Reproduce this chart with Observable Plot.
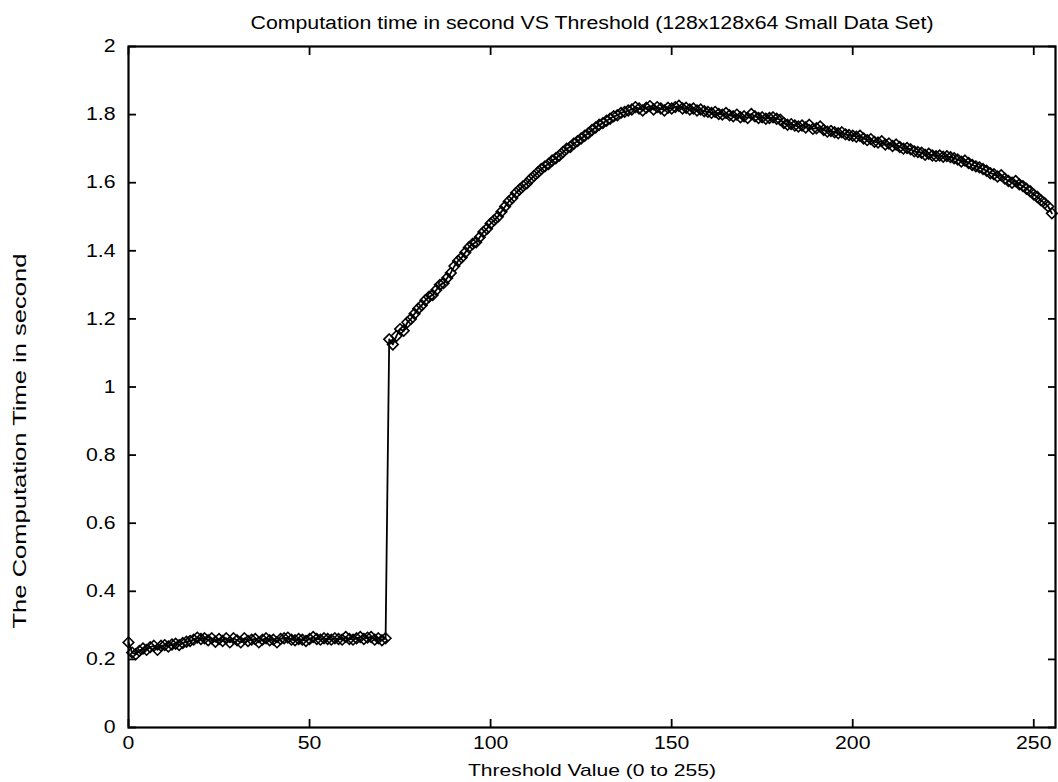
<!DOCTYPE html>
<html><head><meta charset="utf-8">
<script src="https://cdn.jsdelivr.net/npm/d3@7"></script>
<script src="https://cdn.jsdelivr.net/npm/@observablehq/plot@0.6"></script>
<style>
body{margin:0;background:#fff}
svg{font-family:"Liberation Sans",Arial,Helvetica,sans-serif}
</style>
</head><body><div id="chart"></div>
<script>
const titleText = "Computation time in second VS Threshold (128x128x64 Small Data Set)";
const xLabelText = "Threshold Value (0 to 255)";
const yLabelText = "The Computation Time in second";
const xTicks = [0, 50, 100, 150, 200, 250];
const yTicks = [0, 0.2, 0.4, 0.6, 0.8, 1, 1.2, 1.4, 1.6, 1.8, 2];

// Computation time (s) for threshold values 0..255
const times = [
  0.250,0.220,0.215,0.225,0.232,0.228,0.236,0.240,0.228,0.240,
  0.242,0.238,0.244,0.246,0.242,0.248,0.252,0.254,0.258,0.264,
  0.260,0.262,0.256,0.262,0.252,0.260,0.254,0.262,0.250,0.262,
  0.256,0.250,0.262,0.254,0.258,0.260,0.250,0.258,0.262,0.256,
  0.258,0.250,0.260,0.262,0.264,0.258,0.256,0.260,0.258,0.254,
  0.260,0.266,0.260,0.258,0.262,0.260,0.258,0.262,0.260,0.258,
  0.266,0.260,0.258,0.262,0.266,0.260,0.264,0.266,0.258,0.262,
  0.256,0.262,1.140,1.125,1.150,1.170,1.165,1.190,1.200,1.215,
  1.230,1.240,1.255,1.265,1.270,1.285,1.300,1.305,1.320,1.335,
  1.355,1.370,1.380,1.395,1.410,1.420,1.425,1.440,1.455,1.465,
  1.480,1.490,1.500,1.515,1.530,1.545,1.555,1.570,1.580,1.590,
  1.598,1.610,1.620,1.630,1.640,1.648,1.655,1.665,1.672,1.680,
  1.690,1.700,1.705,1.715,1.722,1.730,1.738,1.745,1.755,1.762,
  1.770,1.775,1.782,1.788,1.795,1.798,1.805,1.808,1.812,1.815,
  1.822,1.818,1.812,1.820,1.825,1.815,1.822,1.818,1.812,1.820,
  1.818,1.822,1.826,1.818,1.820,1.815,1.818,1.812,1.815,1.810,
  1.808,1.805,1.808,1.802,1.800,1.805,1.798,1.795,1.800,1.792,
  1.795,1.790,1.802,1.795,1.790,1.792,1.788,1.790,1.792,1.788,
  1.785,1.775,1.770,1.772,1.768,1.765,1.768,1.762,1.770,1.758,
  1.760,1.765,1.755,1.750,1.752,1.748,1.745,1.748,1.742,1.740,
  1.738,1.735,1.738,1.730,1.725,1.728,1.720,1.718,1.722,1.712,
  1.715,1.708,1.712,1.705,1.700,1.702,1.698,1.692,1.690,1.688,
  1.682,1.685,1.680,1.678,1.680,1.676,1.678,1.675,1.672,1.668,
  1.662,1.665,1.658,1.652,1.648,1.645,1.640,1.635,1.628,1.625,
  1.618,1.622,1.612,1.605,1.600,1.605,1.595,1.590,1.582,1.575,
  1.565,1.558,1.548,1.540,1.530,1.510
];
const thresholds = times.map((_, i) => i);

const data = thresholds.map((t, i) => ({threshold: t, time: times[i]}));
const fmt = d => String(+d.toFixed(1));

const chart = Plot.plot({
  width: 1058, height: 782,
  marginLeft: 128, marginRight: 3, marginTop: 46, marginBottom: 55,
  style: {fontSize: "18px", color: "black", background: "white", overflow: "visible"},
  x: {domain: [0, 256], label: null},
  y: {domain: [0, 2], label: null},
  marks: [
    Plot.line(data, {x: "threshold", y: "time", stroke: "black", strokeWidth: 1.8}),
    Plot.dot(data, {x: "threshold", y: "time", symbol: "diamond2", r: 4.8, stroke: "black", strokeWidth: 1.6, fill: "none"}),
    Plot.axisX(xTicks, {anchor: "bottom", tickSize: -8, tickFormat: () => "", strokeWidth: 1.8, label: null}),
    Plot.axisX(xTicks, {anchor: "top", tickSize: -8, tickFormat: () => "", strokeWidth: 1.8, label: null}),
    Plot.axisX(xTicks, {anchor: "bottom", tickSize: 0, tickPadding: 9, tickFormat: fmt, label: null, className: "ticklab"}),
    Plot.axisY(yTicks, {anchor: "left", tickSize: -8, tickFormat: () => "", strokeWidth: 1.8, label: null}),
    Plot.axisY(yTicks, {anchor: "right", tickSize: -8, tickFormat: () => "", strokeWidth: 1.8, label: null}),
    Plot.axisY(yTicks, {anchor: "left", tickSize: 0, tickPadding: 13, tickFormat: fmt, label: null, className: "ticklab"}),
    Plot.frame({stroke: "black", strokeWidth: 2.2}),
    Plot.text([titleText], {frameAnchor: "top", dy: -30, text: d => d, fontSize: 18, className: "ttl"}),
    Plot.text([xLabelText], {frameAnchor: "bottom", dy: 48, text: d => d, fontSize: 17, className: "xl"}),
    Plot.text([yLabelText], {frameAnchor: "left", textAnchor: "middle", lineAnchor: "middle", dx: -108, dy: 54, rotate: -90, text: d => d, fontSize: 18, className: "yl"})
  ]
});
document.getElementById("chart").appendChild(chart);

function stretch(sel, target) {
  chart.querySelectorAll(sel).forEach(t => {
    const len = t.getComputedTextLength();
    const L = typeof target === "function" ? target(len) : target;
    const anchor = getComputedStyle(t).textAnchor;
    let x0 = +(t.getAttribute("x") || 0);
    if (anchor === "middle") x0 -= L / 2;
    else if (anchor === "end") x0 -= L;
    t.setAttribute("text-anchor", "start");
    t.style.textAnchor = "start";
    t.setAttribute("x", x0);
    t.setAttribute("textLength", L);
    t.setAttribute("lengthAdjust", "spacingAndGlyphs");
  });
}
stretch(".ttl text", 683);
stretch(".xl text", 248);
stretch(".yl text", 375);
stretch(".ticklab text", len => len * 1.18);
</script>
</body></html>
